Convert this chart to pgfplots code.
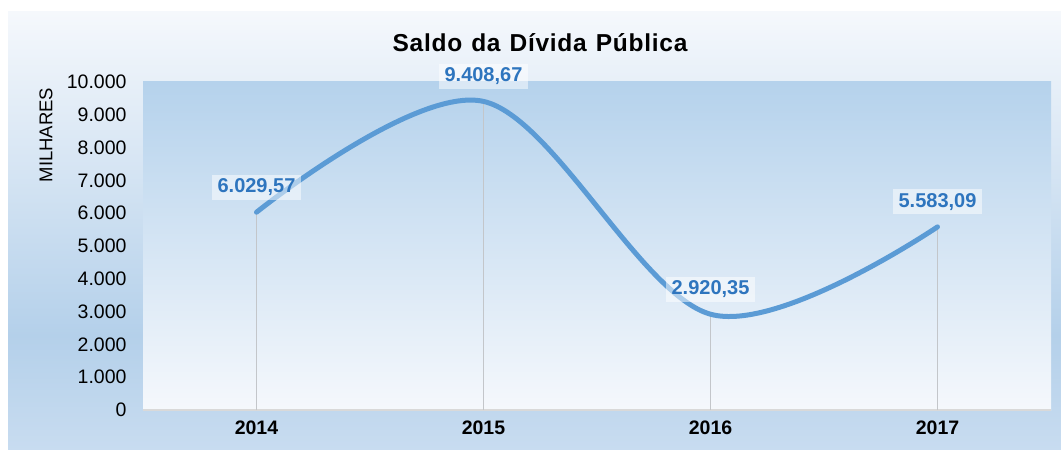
\documentclass[border=0pt]{standalone}
\usepackage{fontspec}
\setmainfont{Liberation Sans}
\usepackage{pgfplots}
\pgfplotsset{compat=1.18}
\definecolor{lineBlue}{RGB}{91,155,213}
\definecolor{labelBlue}{RGB}{46,117,190}
\definecolor{outTop}{RGB}{245,248,252}
\definecolor{outMid}{RGB}{180,208,234}
\definecolor{outBot}{RGB}{200,220,240}
\definecolor{plotTop}{RGB}{181,210,236}
\definecolor{plotBot}{RGB}{245,248,252}
\definecolor{dropGray}{RGB}{195,198,202}
\definecolor{axisGray}{RGB}{217,217,217}

\pgfplotstableread{
x   y        lab
0   6029.57  6.029,57
1   9408.67  9.408,67
2   2920.35  2.920,35
3   5583.09  5.583,09
}\divida

\begin{document}
\begin{tikzpicture}
% chart area background
\fill[white] (0bp,0bp) rectangle (1061bp,449bp);
\shade[top color=outTop, bottom color=outMid] (8bp,113bp) rectangle (1061bp,437bp);
\shade[top color=outMid, bottom color=outBot] (8bp,-1bp) rectangle (1061bp,114bp);

\node[font=\fontsize{24.5bp}{27bp}\selectfont\bfseries\addfontfeature{LetterSpace=3}]
  at (540bp,406bp) {Saldo\hspace{9bp}da\hspace{9bp}Dívida\hspace{9bp}Pública};
\node[rotate=90, font=\fontsize{18.5bp}{20bp}\selectfont] at (46bp,314bp) {MILHARES};

\begin{axis}[
    at={(143bp,39bp)}, anchor=south west,
    scale only axis,
    width=908bp, height=328bp,
    xmin=-0.5, xmax=3.5,
    ymin=0, ymax=10000,
    ytick={0,1000,...,10000},
    scaled y ticks=false,
    xtick={0,1,2,3},
    xticklabels={2014,2015,2016,2017},
    axis lines*=left,
    y axis line style={draw=none},
    x axis line style={draw=axisGray, line width=2bp},
    major tick length=0pt,
    axis background/.style={shade, top color=plotTop, bottom color=plotBot},
    clip=false,
    yticklabel style={font=\fontsize{19.5bp}{20bp}\selectfont, xshift=-13bp,
      /pgf/number format/.cd, fixed, precision=0, 1000 sep={.}, assume math mode=true},
    xticklabel style={font=\fontsize{19.5bp}{22bp}\selectfont\bfseries, yshift=-7bp},
  ]
  \addplot[ycomb, draw=dropGray, line width=1.5bp, no marks] table[x=x, y=y] {\divida};
  \addplot[smooth, tension=0.55, draw=lineBlue, line width=5bp, line cap=round, no marks,
    point meta=explicit symbolic,
    nodes near coords,
    every node near coord/.append style={anchor=center, yshift=25bp,
      font=\fontsize{20bp}{22bp}\selectfont\bfseries, text=labelBlue,
      fill=white, fill opacity=0.5, text opacity=1,
      inner xsep=6bp, inner ysep=4bp}
  ] table[x=x, y=y, meta=lab] {\divida};
\end{axis}
\end{tikzpicture}
\end{document}
